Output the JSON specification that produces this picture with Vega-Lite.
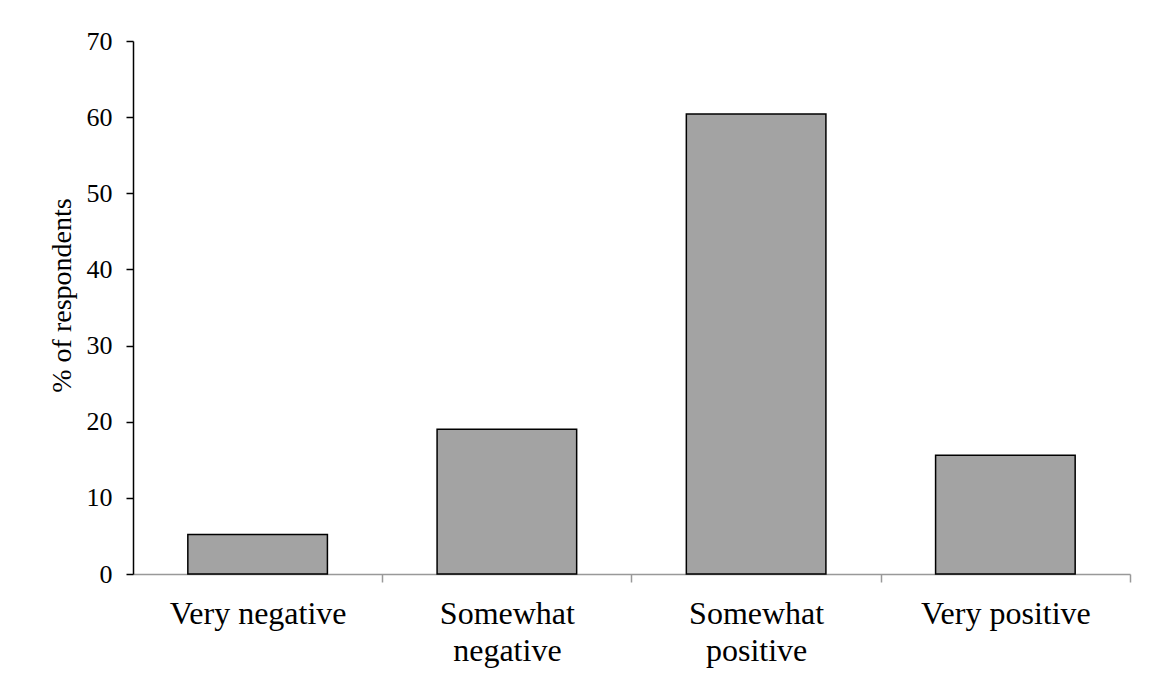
{
  "$schema": "https://vega.github.io/schema/vega-lite/v6.json",
  "width": 997,
  "height": 533,
  "autosize": {"type": "none"},
  "padding": {"left": 133, "top": 41, "right": 20, "bottom": 102},
  "background": "white",
  "data": {
    "values": [
      {"category": "Very negative", "percent": 5.2},
      {"category": "Somewhat negative", "percent": 19.0},
      {"category": "Somewhat positive", "percent": 60.4},
      {"category": "Very positive", "percent": 15.6}
    ]
  },
  "mark": {"type": "bar", "fill": "#a3a3a3", "stroke": "black", "strokeWidth": 1.5},
  "encoding": {
    "x": {
      "field": "category",
      "type": "nominal",
      "sort": null,
      "scale": {"paddingInner": 0.44, "paddingOuter": 0.22},
      "axis": {
        "title": null,
        "labelAngle": 0,
        "labelFont": "Liberation Serif",
        "labelFontSize": 32,
        "labelColor": "black",
        "labelLineHeight": 37,
        "labelBaseline": "alphabetic",
        "labelPadding": 41,
        "labelExpr": "datum.value == 'Somewhat negative' ? ['Somewhat', 'negative'] : datum.value == 'Somewhat positive' ? ['Somewhat', 'positive'] : datum.label",
        "domainColor": "#999999",
        "domainWidth": 1.5,
        "tickColor": "#999999",
        "tickWidth": 1.5,
        "tickSize": 8,
        "bandPosition": 1,
        "tickOffset": 54.835,
        "labelOffset": -54.835
      }
    },
    "y": {
      "field": "percent",
      "type": "quantitative",
      "scale": {"domain": [0, 70], "nice": false},
      "axis": {
        "title": "% of respondents",
        "titleFont": "Liberation Serif",
        "titleFontSize": 28,
        "titleFontWeight": "normal",
        "titleColor": "black",
        "titleX": -71,
        "titleY": 254,
        "titleBaseline": "middle",
        "values": [0, 10, 20, 30, 40, 50, 60, 70],
        "grid": false,
        "labelFont": "Liberation Serif",
        "labelFontSize": 26,
        "labelColor": "black",
        "labelPadding": 14,
        "domainColor": "black",
        "domainWidth": 1.5,
        "tickColor": "black",
        "tickWidth": 1.5,
        "tickSize": 7
      }
    }
  },
  "config": {"view": {"stroke": null}}
}
